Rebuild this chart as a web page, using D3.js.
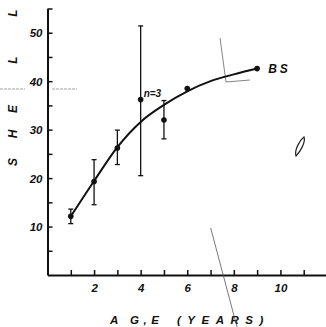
<!DOCTYPE html>
<html>
<head>
<meta charset="utf-8">
<script src="https://cdn.jsdelivr.net/npm/d3@7"></script>
<style>
  body { margin: 0; background: #fff; }
  svg { display: block; }
  text { font-family: "Liberation Sans", Arial, sans-serif; font-weight: bold; font-style: italic; fill: #111; }
</style>
</head>
<body>
<div id="main"></div>
<script>
var width = 326;
var height = 327;

// mean shell length by age, with error bars where the figure has them
var ages = [1, 2, 3, 4, 5, 6, 9];
var means = [12.1, 19.3, 26.2, 36.2, 32.0, 38.5, 42.6];
var upper = [13.6, 23.8, 29.9, 51.4, 36.0, null, null];
var lower = [10.6, 14.5, 22.8, 20.5, 28.1, null, null];

// fitted growth curve
var curveAges = [1, 2, 3, 4, 5, 6, 7, 8, 9];
var curveLen = [12.1, 19.4, 26.4, 31.6, 35.1, 37.9, 40.0, 41.4, 42.6];

var xTicks = [1, 2, 3, 4, 5, 6, 7, 8, 9, 10, 11];
var xLabels = [2, 4, 6, 8, 10];
var yTicks = [5, 10, 15, 20, 25, 30, 35, 40, 45, 50, 55];
var yLabels = [10, 20, 30, 40, 50];

var yTitle = ["S", "H", "E", "L", "L"];
var yTitlePos = [162, 134, 109, 60, 13];

var xScale = d3.scaleLinear().domain([0, 12]).range([47.5, 327]);
var yScale = d3.scaleLinear().domain([0, 55]).range([275, 8.5]);

var svg = d3.select("#main")
    .append("svg")
    .attr("width", width)
    .attr("height", height);

var xAxis = d3.axisBottom(xScale)
    .tickValues(xTicks)
    .tickSizeInner(-5)
    .tickSizeOuter(0)
    .tickPadding(9)
    .tickFormat(d => xLabels.indexOf(d) >= 0 ? d : "");

var yAxis = d3.axisLeft(yScale)
    .tickValues(yTicks)
    .tickSizeInner(-5)
    .tickSizeOuter(0)
    .tickPadding(5)
    .tickFormat(d => yLabels.indexOf(d) >= 0 ? d : "");

var xAxisG = svg.append("g")
    .attr("transform", "translate(0," + yScale(0) + ")")
    .call(xAxis);

var yAxisG = svg.append("g")
    .attr("transform", "translate(" + xScale(0) + ",0)")
    .call(yAxis);

[xAxisG, yAxisG].forEach(function(g) {
  g.select(".domain").attr("stroke", "#111").attr("stroke-width", 2);
  g.selectAll(".tick line").attr("stroke", "#111").attr("stroke-width", 1.5);
  g.selectAll(".tick text")
    .style("font-family", "'Liberation Sans', Arial, sans-serif")
    .style("font-weight", "bold")
    .style("font-style", "italic")
    .attr("font-size", 11.5)
    .attr("fill", "#111");
});
yAxisG.selectAll(".tick text").attr("dy", "0.36em");

// axis titles
svg.append("text")
    .attr("x", 110)
    .attr("y", 324)
    .attr("font-size", 11.5)
    .style("letter-spacing", "4.5px")
    .text("A G,E");

svg.append("text")
    .attr("x", 177)
    .attr("y", 324)
    .attr("font-size", 11.5)
    .style("letter-spacing", "6.5px")
    .text("(YEARS)");

svg.append("g").selectAll("text")
    .data(yTitle)
    .enter()
    .append("text")
    .attr("font-size", 12)
    .attr("text-anchor", "middle")
    .attr("transform", (d, i) => "translate(17," + yTitlePos[i] + ") rotate(-90)")
    .text(d => d);

// scan marks visible on the original
svg.append("line")
    .attr("x1", 210.7).attr("y1", 228)
    .attr("x2", 237).attr("y2", 327)
    .attr("stroke", "#555").attr("stroke-width", 0.8);
svg.append("path")
    .attr("d", "M220,38 L226,82 L250,80")
    .attr("fill", "none").attr("stroke", "#666").attr("stroke-width", 0.8);
svg.append("path")
    .attr("d", "M0,89 L25,89 M52,89 L77,89")
    .attr("fill", "none").attr("stroke", "#888").attr("stroke-width", 0.8)
    .attr("stroke-dasharray", "3,1");
svg.append("path")
    .attr("d", "M304,137 C300,140 294,150 296,156 C300,152 306,142 304,137 Z")
    .attr("fill", "none").attr("stroke", "#222").attr("stroke-width", 1.2);

// growth curve
var line = d3.line()
    .x((d, i) => xScale(curveAges[i]))
    .y(d => yScale(d))
    .curve(d3.curveMonotoneX);

svg.append("path")
    .datum(curveLen)
    .attr("d", line)
    .attr("fill", "none")
    .attr("stroke", "#111")
    .attr("stroke-width", 2);

// error bars
var bars = svg.append("g").selectAll("g")
    .data(ages.map((a, i) => i).filter(i => upper[i] != null))
    .enter()
    .append("g")
    .attr("stroke", "#111")
    .attr("stroke-width", 1.3);

bars.append("line")
    .attr("x1", i => xScale(ages[i])).attr("x2", i => xScale(ages[i]))
    .attr("y1", i => yScale(upper[i])).attr("y2", i => yScale(lower[i]));
bars.append("line")
    .attr("x1", i => xScale(ages[i]) - 2.5).attr("x2", i => xScale(ages[i]) + 2.5)
    .attr("y1", i => yScale(upper[i])).attr("y2", i => yScale(upper[i]));
bars.append("line")
    .attr("x1", i => xScale(ages[i]) - 2.5).attr("x2", i => xScale(ages[i]) + 2.5)
    .attr("y1", i => yScale(lower[i])).attr("y2", i => yScale(lower[i]));

// means
svg.append("g").selectAll("circle")
    .data(means)
    .enter()
    .append("circle")
    .attr("cx", (d, i) => xScale(ages[i]))
    .attr("cy", d => yScale(d))
    .attr("r", 2.8)
    .attr("fill", "#111");

// annotations
svg.append("text")
    .attr("x", xScale(4) + 3)
    .attr("y", yScale(36.2) - 3)
    .attr("font-size", 10)
    .text("n=3");

svg.append("text")
    .attr("x", xScale(9) + 11)
    .attr("y", yScale(42.6) + 4.5)
    .attr("font-size", 12)
    .style("letter-spacing", "3px")
    .text("BS");
</script>
</body>
</html>
